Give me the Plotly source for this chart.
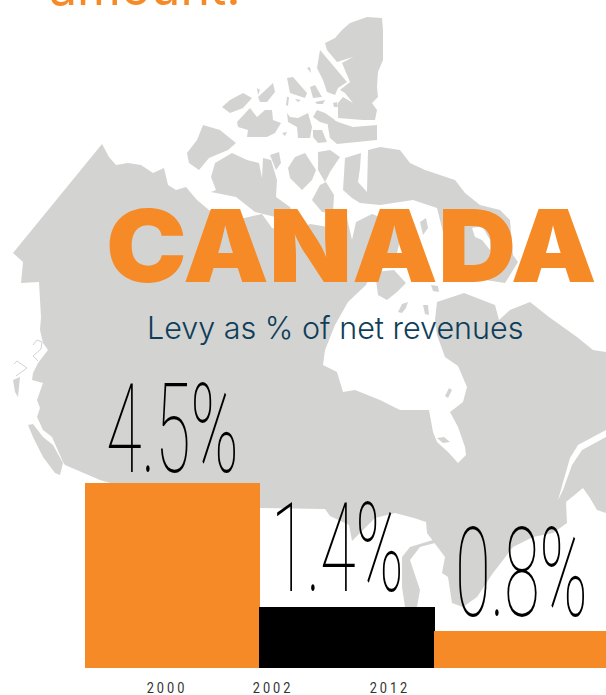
import plotly.graph_objects as go

# ---- chart data ----
years = ["2000", "2002", "2012"]
levy_pct = [4.5, 1.4, 0.8]
value_labels = ["4.5%", "1.4%", "0.8%"]
bar_colors = ["#F68A26", "#000000", "#F68A26"]
label_dx = [0, -9.5, 0]
label_dy = [7, 12, 11]
tick_positions = [-0.0315, 0.576, 1.246]
bar_base = -0.125

# ---- background map outline, reference pixels ----
mainland = [(102,144),(109,157),(116,165),(128,163),(141,165),(153,173),(164,168),(168,185),(176,190),(186,187),(197,200),(209,210),
 (222,216),(240,219),(262,214),(272,228),(290,232),(310,224),(335,228),(340,215),(347,218),(352,240),(356,222),(372,214),(393,222),(400,240),(395,262),(372,271),
 (366,285),(348,302),(335,325),(325,350),(323,365),(337,372),(343,392),(355,390),(380,400),(400,410),(429,410),(433,432),(437,442),(448,452),(458,463),(466,455),(465,447),(458,427),(450,412),(463,402),(467,387),(458,366),(445,357),(437,335),(435,320),(437,302),
 (464,293),(495,305),(499,320),(510,310),(530,302),(549,317),(577,337),(593,350),(606,352),(606,513),(597,510),(590,498),(583,488),(566,502),(567,523),(553,533),(533,537),(513,547),(493,573),(477,597),(463,607),(452,603),(448,577),(442,573),(445,557),(435,543),(427,533),(426,522),(414,518),(395,513),(375,518),(352,541),(349,525),(330,516),(325,509),(260,508),(110,483),(100,480),
 (65,465),(63,462),(52,437),(43,430),(37,417),(40,408),(37,400),(43,383),(32,380),(33,373),(38,363),(48,350),(43,343),(40,330),(41,317),(39,282),(21,283),(23,262),(13,253)]
vancouver = [(28,425),(33,424),(43,437),(53,445),(63,463),(60,475),(55,473),(43,457),(33,437)]
haida = [(13,380),(20,377),(18,397),(15,392)]
michigan = [(402,557),(410,547),(433,540),(435,543),(420,547),(410,560),(420,590),(417,607),(405,607),(402,587)]
ellesmere = [(325,43),(335,38),(342,30),(350,23),(367,17),(382,18),(383,30),(383,60),(378,72),(377,87),(378,97),(372,103),(377,110),(375,120),(363,120),(338,118),(338,103),(343,97),(353,103),(345,93),(340,90),(350,82),(342,63),(353,57),(337,62),(327,50)]
axel = [(320,50),(333,65),(343,77),(347,82),(338,88),(335,95),(327,92),(323,80),(317,68)]
devon = [(328,117),(338,122),(353,127),(377,125),(377,140),(360,142),(337,144),(330,138),(328,127)]
patrick = [(222,107),(230,100),(243,93),(252,98),(243,108),(230,113)]
melville = [(237,122),(250,108),(257,117),(265,110),(272,110),(273,120),(281,123),(275,133),(267,137),(247,137),(248,130),(238,127)]
borden = [(258,97),(273,83),(275,92),(267,102),(260,102)]
brock = [(257,88),(260,90),(258,95)]
ringnes = [(287,78),(293,77),(307,93),(305,98),(290,93),(288,85)]
meighen = [(307,68),(310,67),(311,73)]
amund = [(310,87),(315,85),(322,97),(313,98)]
isl_a = [(315,102),(325,100),(323,104),(317,104)]
isl_b = [(287,97),(289,97),(288,106),(286,105)]
isl_c = [(295,99),(301,100),(298,102)]
isl_d = [(333,103),(337,102),(338,107),(334,107)]
isl_e = [(282,133),(287,132),(285,136)]
bathurst = [(287,113),(290,117),(298,118),(308,113),(312,127),(310,138),(298,138),(297,127),(288,122)]
cornwallis = [(317,110),(325,113),(335,120),(330,125),(320,122),(313,117)]
isl_f = [(313,130),(322,130),(327,142),(318,143),(313,137)]
banks = [(203,125),(220,130),(236,143),(228,150),(209,158),(199,170),(189,163),(187,153),(197,140)]
victoria = [(215,163),(232,153),(247,160),(259,163),(262,178),(263,158),(271,160),(277,180),(276,197),(290,207),(296,222),(255,212),(236,197),(211,192),(216,190),(211,177)]
isl_g = [(270,155),(279,152),(281,163),(276,170)]
pow_isl = [(295,157),(305,153),(316,170),(312,180),(302,190),(290,178),(288,168)]
somerset = [(318,152),(330,150),(340,157),(330,172),(325,182),(318,170)]
boothia = [(320,185),(326,182),(334,195),(333,213),(322,212),(312,200)]
baffin = [(343,190),(345,158),(361,153),(360,168),(358,182),(367,192),(368,150),(380,147),(400,150),(410,163),(425,170),(440,175),(455,180),(465,193),(480,205),(500,210),(510,220),(513,255),(518,262),(505,283),(472,278),(452,268),(446,245),(440,222),(437,208),(413,200),(380,205),(360,203),(352,198)]
southampton = [(375,272),(394,270),(406,283),(397,292),(387,300),(378,295)]
coats = [(398,312),(402,304),(408,302),(406,308),(402,313)]
mansel = [(423,305),(428,305),(429,315),(425,314)]
strait_isl = [(431,285),(438,286),(439,292),(433,291)]
charles = [(420,222),(426,218),(428,228),(423,235)]
akimiski = [(437,438),(444,437),(450,442),(443,443)]
belcher = [(445,396),(449,388),(452,390),(448,398)]
land_shapes = [mainland, vancouver, haida, michigan, ellesmere, axel, devon, patrick, melville, borden, brock, ringnes, meighen, amund,
               isl_a, isl_b, isl_c, isl_d, isl_e, bathurst, cornwallis, isl_f, banks, victoria, isl_g, pow_isl, somerset, boothia, baffin,
               southampton, coats, mansel, strait_isl, charles, akimiski, belcher]

estuary = [(558,500),(564,478),(570,458),(578,445),(606,430),(606,437),(582,450),(572,465),(563,490)]
cumberland = [(472,228),(482,226),(490,240),(490,250),(482,240),(475,237)]
water_shapes = [estuary, cumberland]

coast_outline_a = [(14,364),(17,361),(27,368),(16,376)]
coast_outline_b = [(38,361),(33,356),(41,349),(42,342),(37,340),(33,345)]


def join(shapes):
    xs, ys = [], []
    for s in shapes:
        xs += [p[0] for p in s] + [s[0][0], None]
        ys += [p[1] for p in s] + [s[0][1], None]
    return xs, ys


fig = go.Figure()
lx, ly = join(land_shapes)
fig.add_trace(go.Scatter(x=lx, y=ly, mode="lines", fill="toself", fillcolor="#D3D3D2",
                         line=dict(width=0, color="#D3D3D2"), hoverinfo="skip", showlegend=False))
wx, wy = join(water_shapes)
fig.add_trace(go.Scatter(x=wx, y=wy, mode="lines", fill="toself", fillcolor="#FFFFFF",
                         line=dict(width=0, color="#FFFFFF"), hoverinfo="skip", showlegend=False))
for outline in (coast_outline_a, coast_outline_b):
    fig.add_trace(go.Scatter(x=[p[0] for p in outline], y=[p[1] for p in outline], mode="lines",
                             line=dict(width=1, color="#D3D3D2"), hoverinfo="skip", showlegend=False))

fig.add_trace(go.Bar(x=[0, 1, 2], y=[v - bar_base for v in levy_pct], base=bar_base, width=1.003,
                     marker=dict(color=bar_colors, line=dict(width=0)),
                     customdata=years, hoverinfo="skip", showlegend=False,
                     xaxis="x2", yaxis="y2"))

annotations = []
for i, (v, t) in enumerate(zip(levy_pct, value_labels)):
    annotations.append(dict(x=i, y=v, xref="x2", yref="y2", text=t, showarrow=False,
                            xanchor="center", yanchor="bottom", xshift=label_dx[i], yshift=label_dy[i] - 28,
                            font=dict(family="Roboto", size=124, weight=100, color="#000000")))
annotations += [
    dict(x=351, y=245, xref="x", yref="y", text="CANADA", showarrow=False, xanchor="center", yanchor="middle",
         font=dict(family="Inter", size=101, weight=900, color="#F68A26")),
    dict(x=334.5, y=327, xref="x", yref="y", text="Levy as % of net revenues", showarrow=False, xanchor="center", yanchor="middle",
         font=dict(family="Inter", size=30.5, weight=300, color="#0E3E58")),
    dict(x=145, y=1.0195, xref="x", yref="paper", text="amount.", showarrow=False, xanchor="center", yanchor="middle",
         font=dict(family="Inter", size=50, weight=400, color="#F68A26")),
]

fig.update_layout(
    template="none",
    width=606, height=695, margin=dict(l=0, r=0, t=0, b=27),
    paper_bgcolor="#FFFFFF", plot_bgcolor="rgba(0,0,0,0)", showlegend=False, bargap=0,
    xaxis=dict(range=[0, 606], visible=False, fixedrange=True, automargin=False),
    yaxis=dict(range=[668, 0], visible=False, fixedrange=True, automargin=False),
    xaxis2=dict(overlaying="x", anchor="y2", range=[-172.5 / 174.5, 433.5 / 174.5], tickmode="array",
                tickvals=tick_positions, ticktext=years, showgrid=False, zeroline=False, showline=False,
                ticks="outside", ticklen=6, tickcolor="rgba(0,0,0,0)", fixedrange=True, automargin=False,
                tickfont=dict(family="Roboto", size=15, color="#333333")),
    yaxis2=dict(overlaying="y", anchor="x2", range=[-0.125, 16.575], visible=False, fixedrange=True, automargin=False),
    annotations=annotations,
)

post = """
document.body.style.margin = '0';
var gd = document.getElementById('{plot_id}');
function squeeze(t, sx) {
  var b = t.getBBox(); var cx = b.x + b.width / 2;
  var old = t.getAttribute('transform') || '';
  t.setAttribute('transform', old + ' translate(' + cx + ',0) scale(' + sx + ',1) translate(' + (-cx) + ',0)');
}
gd.querySelectorAll('.annotation-text').forEach(function (t) {
  if (/^[0-9.]+%$/.test(t.textContent)) { squeeze(t, 0.52); }
  if (t.textContent === 'CANADA') { squeeze(t, 1.07); }
});
gd.querySelectorAll('.x2tick text').forEach(function (t) { t.style.letterSpacing = '3.5px'; squeeze(t, 0.85); });
"""
fig.write_html("out.html", post_script=post, config={"displayModeBar": False})
